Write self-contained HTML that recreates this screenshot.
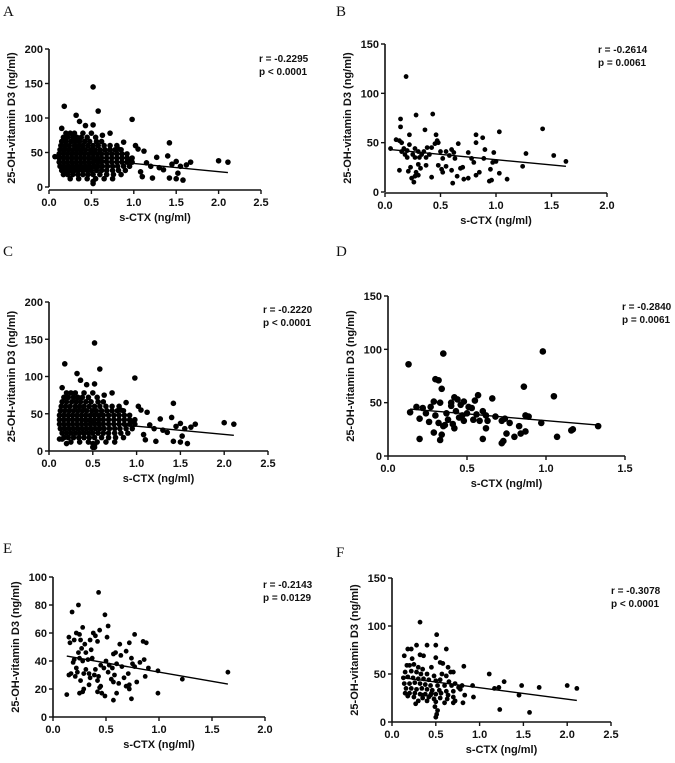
<!DOCTYPE html>
<html><head><meta charset="utf-8"><style>
html,body{margin:0;padding:0;background:#fff;}
svg{display:block;font-family:"Liberation Sans",Arial,sans-serif;}
.tk{font-size:11px;font-weight:bold;fill:#111;}
.ttl{font-size:11px;font-weight:bold;fill:#111;}
.ann{font-size:10px;font-weight:bold;fill:#111;}
.lbl{font-family:"Liberation Serif",serif;font-size:15px;fill:#111;}
</style></head><body>
<svg id="fig" width="675" height="763" viewBox="0 0 675 763"></svg>
<script>
const aXTicks=[0,0.5,1.0,1.5,2.0,2.5];
const aYTicks=[0,50,100,150,200];
const aPoints=[[0.52,145],[0.18,117],[0.58,110],[0.32,104],[0.52,90],[0.98,98],[0.36,95],[0.43,89],[0.15,85],[0.72,78],[0.63,75],[1.02,60],[1.42,64],[1.05,55],[1.12,52],[1.27,43],[1.4,45],[2.0,38],[2.11,36],[1.67,36],[1.5,37],[1.55,30],[1.2,30],[1.52,20],[1.58,10],[1.5,12],[1.42,13],[1.22,13],[1.1,15],[0.52,5],[0.52,8],[0.07,44],[1.3,28],[1.35,25],[1.45,33],[1.62,32],[1.15,35],[1.08,22],[0.95,40],[0.88,65],[0.82,55],
[0.2,78],[0.25,78],[0.3,78],[0.4,78],[0.5,78],
[0.17,72],[0.22,72],[0.28,72],[0.33,72],[0.38,72],[0.45,72],[0.55,72],
[0.15,66],[0.2,66],[0.26,66],[0.31,66],[0.36,66],[0.42,66],[0.48,66],[0.56,66],[0.62,66],
[0.14,60],[0.19,60],[0.24,60],[0.3,60],[0.35,60],[0.4,60],[0.46,60],[0.52,60],[0.58,60],[0.65,60],[0.72,60],[0.8,60],
[0.13,54],[0.18,54],[0.23,54],[0.28,54],[0.33,54],[0.38,54],[0.43,54],[0.49,54],[0.54,54],[0.6,54],[0.66,54],[0.72,54],[0.78,54],[0.85,54],
[0.12,48],[0.17,48],[0.22,48],[0.27,48],[0.32,48],[0.37,48],[0.42,48],[0.47,48],[0.52,48],[0.57,48],[0.62,48],[0.68,48],[0.74,48],[0.8,48],[0.86,48],[0.92,48],
[0.12,42],[0.17,42],[0.22,42],[0.27,42],[0.32,42],[0.37,42],[0.42,42],[0.47,42],[0.52,42],[0.57,42],[0.62,42],[0.68,42],[0.74,42],[0.8,42],[0.86,42],[0.92,42],[0.98,42],
[0.12,36],[0.17,36],[0.22,36],[0.27,36],[0.32,36],[0.37,36],[0.42,36],[0.47,36],[0.52,36],[0.57,36],[0.62,36],[0.68,36],[0.74,36],[0.8,36],[0.86,36],[0.92,36],[0.98,36],
[0.13,30],[0.18,30],[0.23,30],[0.28,30],[0.33,30],[0.38,30],[0.43,30],[0.48,30],[0.53,30],[0.58,30],[0.63,30],[0.69,30],[0.75,30],[0.81,30],[0.88,30],[0.95,30],
[0.15,24],[0.2,24],[0.25,24],[0.3,24],[0.35,24],[0.4,24],[0.45,24],[0.5,24],[0.56,24],[0.62,24],[0.68,24],[0.75,24],[0.82,24],[0.9,24],
[0.17,18],[0.22,18],[0.28,18],[0.34,18],[0.4,18],[0.46,18],[0.52,18],[0.6,18],[0.68,18],[0.76,18],[0.85,18],
[0.25,12],[0.35,12],[0.45,12],[0.55,12],[0.65,12],[0.75,12]];
const aFit=[[0.07,45],[2.11,21]];

const bXTicks=[0,0.5,1.0,1.5,2.0];
const bYTicks=[0,50,100,150];
const bPoints=[[0.19,117],[0.28,78],[0.43,79],[0.14,74],[0.14,66],[0.36,63],[1.42,64],[1.03,61],[0.22,58],[0.46,58],[0.82,58],[0.88,55],[0.1,53],[0.13,52],[0.47,52],[0.15,50],[0.48,50],[0.82,50],[0.66,49],[0.22,48],[0.45,49],[0.05,44],[0.17,44],[0.27,44],[0.38,45],[0.42,45],[0.6,43],[0.9,43],[0.15,41],[0.2,42],[0.3,41],[0.35,41],[0.5,41],[0.55,41],[0.62,40],[0.75,40],[0.98,40],[1.27,39],[0.18,38],[0.25,38],[0.33,38],[0.4,38],[0.58,37],[1.52,37],[0.2,35],[0.27,35],[0.31,35],[0.37,35],[0.52,34],[0.63,34],[0.78,34],[0.89,34],[1.0,31],[0.97,30],[1.63,31],[0.3,28],[0.37,27],[0.48,27],[0.55,26],[0.7,25],[0.8,30],[0.23,25],[0.32,24],[0.51,23],[0.68,24],[0.95,23],[1.24,26],[0.13,22],[0.21,21],[0.28,20],[0.52,20],[0.6,22],[0.85,20],[1.03,19],[0.3,17],[0.27,16],[0.42,15],[0.65,16],[0.75,14],[0.82,17],[0.24,14],[0.71,13],[1.1,13],[0.96,12],[0.26,10],[0.61,9],[0.94,11]];
const bFit=[[0.05,43],[1.63,26]];

const cXTicks=[0,0.5,1.0,1.5,2.0,2.5];
const cYTicks=[0,50,100,150,200];
const cPoints=aPoints.filter(p=>p[0]>=0.1).concat([[0.12,16],[0.15,16],[0.2,10],[0.5,10],[0.5,5]]);
const cFit=[[0.12,43],[2.11,21]];

const dXTicks=[0,0.5,1.0,1.5];
const dYTicks=[0,50,100,150];
const dPoints=[[0.13,86],[0.35,96],[0.98,98],[0.3,72],[0.32,71],[0.34,63],[0.86,65],[1.05,56],[0.57,57],[0.66,54],[0.42,55],[0.44,53],[0.48,51],[0.55,52],[0.29,51],[0.33,50],[0.18,46],[0.22,45],[0.4,47],[0.46,48],[0.53,45],[0.6,42],[0.14,41],[0.24,40],[0.3,38],[0.37,40],[0.43,42],[0.5,40],[0.56,39],[0.62,38],[0.68,37],[0.74,35],[0.87,38],[0.89,37],[0.2,35],[0.26,32],[0.32,31],[0.36,29],[0.41,30],[0.48,33],[0.58,33],[0.63,33],[0.72,33],[0.77,31],[0.97,31],[0.35,28],[0.42,26],[0.62,26],[0.83,28],[1.33,28],[1.17,25],[1.16,24],[0.87,23],[0.84,21],[0.75,21],[0.8,18],[0.29,22],[0.34,20],[1.07,18],[0.6,16],[0.2,16],[0.33,15],[0.72,12],[0.73,14],[0.45,36],[0.51,46],[0.38,34],[0.27,46],[0.47,38],[0.54,34],[0.4,50]];
const dFit=[[0.14,44],[1.33,29]];

const eXTicks=[0,0.5,1.0,1.5,2.0];
const eYTicks=[0,20,40,60,80,100];
const ePoints=[[0.43,89],[0.24,80],[0.18,75],[0.49,73],[0.52,65],[0.28,64],[0.44,62],[0.22,60],[0.25,59],[0.38,60],[0.4,58],[0.77,59],[0.15,57],[0.51,57],[0.2,55],[0.26,55],[0.35,55],[0.42,54],[0.16,53],[0.3,52],[0.85,54],[0.88,53],[0.63,52],[0.72,53],[0.27,49],[0.36,48],[0.24,46],[0.31,46],[0.57,45],[0.59,46],[0.64,44],[0.69,47],[0.25,42],[0.2,41],[0.33,41],[0.37,42],[0.5,40],[0.74,42],[0.86,41],[0.19,39],[0.28,40],[0.45,37],[0.53,37],[0.6,38],[0.75,38],[0.82,39],[0.22,35],[0.31,34],[0.4,34],[0.48,35],[0.56,35],[0.65,36],[0.77,36],[0.9,35],[0.99,33],[0.17,31],[0.23,32],[0.29,31],[0.34,31],[0.39,30],[0.52,32],[0.58,30],[0.71,31],[0.15,30],[0.21,29],[0.35,28],[0.43,29],[0.55,27],[0.67,28],[0.87,29],[1.22,27],[1.65,32],[0.26,26],[0.42,26],[0.57,25],[0.79,25],[0.34,23],[0.45,22],[0.62,24],[0.72,23],[0.69,22],[0.44,21],[0.29,20],[0.72,20],[0.28,18],[0.25,17],[0.6,17],[0.42,18],[0.46,17],[0.99,17],[0.13,16],[0.49,15],[0.74,13],[0.57,12]];
const eFit=[[0.13,43.5],[1.65,23.5]];

const fXTicks=[0,0.5,1.0,1.5,2.0,2.5];
const fYTicks=[0,50,100,150];
const fPoints=[[0.32,104],[0.51,91],[0.5,80],[0.28,80],[0.4,80],[0.18,76],[0.22,76],[0.62,76],[0.14,69],[0.32,70],[0.36,69],[0.5,67],[0.23,66],[0.55,62],[0.58,61],[0.67,52],[0.64,57],[0.82,58],[1.11,50],[1.28,42],[1.48,38],[1.68,36],[2.0,38],[2.11,35],[1.22,36],[1.17,35],[0.92,38],[0.8,38],[1.45,28],[1.23,13],[1.57,10],[0.93,26],[0.81,20],[0.83,28],[0.5,5],[0.51,8],[0.52,12],[0.49,16],[0.27,19],[0.17,59],[0.2,59],[0.25,60],[0.3,57],[0.35,55],[0.45,57],[0.15,52],[0.22,53],[0.28,52],[0.33,50],[0.4,50],[0.48,48],[0.57,50],[0.62,48],[0.7,52],[0.13,46],[0.18,47],[0.24,46],[0.3,45],[0.36,45],[0.42,44],[0.5,43],[0.55,44],[0.65,42],[0.72,40],[0.14,40],[0.2,40],[0.26,41],[0.32,40],[0.38,39],[0.44,38],[0.52,38],[0.6,38],[0.68,38],[0.76,36],[0.16,35],[0.22,35],[0.28,34],[0.34,35],[0.4,34],[0.46,33],[0.54,33],[0.62,32],[0.7,32],[0.78,34],[0.15,30],[0.2,30],[0.26,30],[0.32,29],[0.38,29],[0.44,28],[0.5,29],[0.56,30],[0.64,28],[0.7,26],[0.18,27],[0.25,26],[0.35,25],[0.42,26],[0.48,24],[0.55,25],[0.63,24],[0.72,22],[0.3,22],[0.4,22],[0.5,21],[0.6,20],[0.7,20],[0.35,28],[0.45,30]];
const fFit=[[0.13,46],[2.11,22.5]];

const NS='http://www.w3.org/2000/svg';
const svg=document.getElementById('fig');
function mk(tag,attrs,parent,text){const e=document.createElementNS(NS,tag);for(const k in attrs)e.setAttribute(k,attrs[k]);if(text!==undefined)e.textContent=text;parent.appendChild(e);return e;}

function panel(id,letter,lx,ly,ax,x1,xMax,yTop,y0,yMax,xOff,xTicks,yTicks,pts,fit,r,annX,annY,r1,p1){
  const g=mk('g',{},svg);
  
  
  const sx=v=>ax+(x1-ax)*v/xMax;
  const sy=v=>y0-(y0-yTop)*v/yMax;
  const L=mk('text',{x:lx,y:ly,class:'lbl'},g,letter);
  
  
  const xa=y0+xOff;
  const ya=mk('line',{x1:ax,y1:yTop,x2:ax,y2:y0,stroke:'#111','stroke-width':1.6},g);
  
  
  const xl=mk('line',{x1:ax,y1:xa,x2:x1,y2:xa,stroke:'#111','stroke-width':1.6},g);
  
  
  yTicks.forEach(v=>{
    mk('line',{x1:ax-4,y1:sy(v),x2:ax,y2:sy(v),stroke:'#111','stroke-width':1.4},g);
    const t=mk('text',{x:ax-6,y:sy(v)+4,class:'tk','text-anchor':'end'},g,String(v));
    
    
  });
  xTicks.forEach(v=>{
    mk('line',{x1:sx(v),y1:xa,x2:sx(v),y2:xa+4,stroke:'#111','stroke-width':1.4},g);
    const t=mk('text',{x:sx(v),y:xa+16,class:'tk','text-anchor':'middle'},g,v.toFixed(1));
    
    
  });
  const xt=mk('text',{x:(ax+x1)/2,y:xa+31,class:'ttl','text-anchor':'middle'},g,'s-CTX (ng/ml)');
  
  
  const cy=(yTop+y0)/2, cx=ax-34;
  const yt=mk('text',{x:cx,y:cy,class:'ttl','text-anchor':'middle',transform:'rotate(-90 '+cx+' '+cy+')'},g,'25-OH-vitamin D3 (ng/ml)');
  
  
  pts.forEach(p=>{
    const c=mk('circle',{cx:sx(p[0]),cy:sy(p[1]),r:r,fill:'#000'},g);
    
    
  });
  const fl=mk('line',{x1:sx(fit[0][0]),y1:sy(fit[0][1]),x2:sx(fit[1][0]),y2:sy(fit[1][1]),stroke:'#000','stroke-width':1.4},g);
  
  
  const a1=mk('text',{x:annX,y:annY,class:'ann'},g,'r = '+r1);
  
  
  const a2=mk('text',{x:annX,y:annY+13,class:'ann'},g,'p '+p1);
  
  
}
panel('a','A',3,16,49,261,2.5,49,187,200,3,aXTicks,aYTicks,aPoints,aFit,2.8,259,62,'-0.2295','< 0.0001');
panel('b','B',336,16,385,607,2.0,44,192,150,1,bXTicks,bYTicks,bPoints,bFit,2.4,598,53,'-0.2614','= 0.0061');
panel('c','C',3,256,49,268,2.5,302,451,200,0,cXTicks,cYTicks,cPoints,cFit,2.8,263,313,'-0.2220','< 0.0001');
panel('d','D',336,256,388,625,1.5,296,456,150,0,dXTicks,dYTicks,dPoints,dFit,3.3,622,310,'-0.2840','= 0.0061');
panel('e','E',3,553,53,265,2.0,577,717,100,0,eXTicks,eYTicks,ePoints,eFit,2.4,263,588,'-0.2143','= 0.0129');
panel('f','F',336,557,392,611,2.5,578,722,150,0,fXTicks,fYTicks,fPoints,fFit,2.4,611,594,'-0.3078','< 0.0001');
</script>
</body></html>
